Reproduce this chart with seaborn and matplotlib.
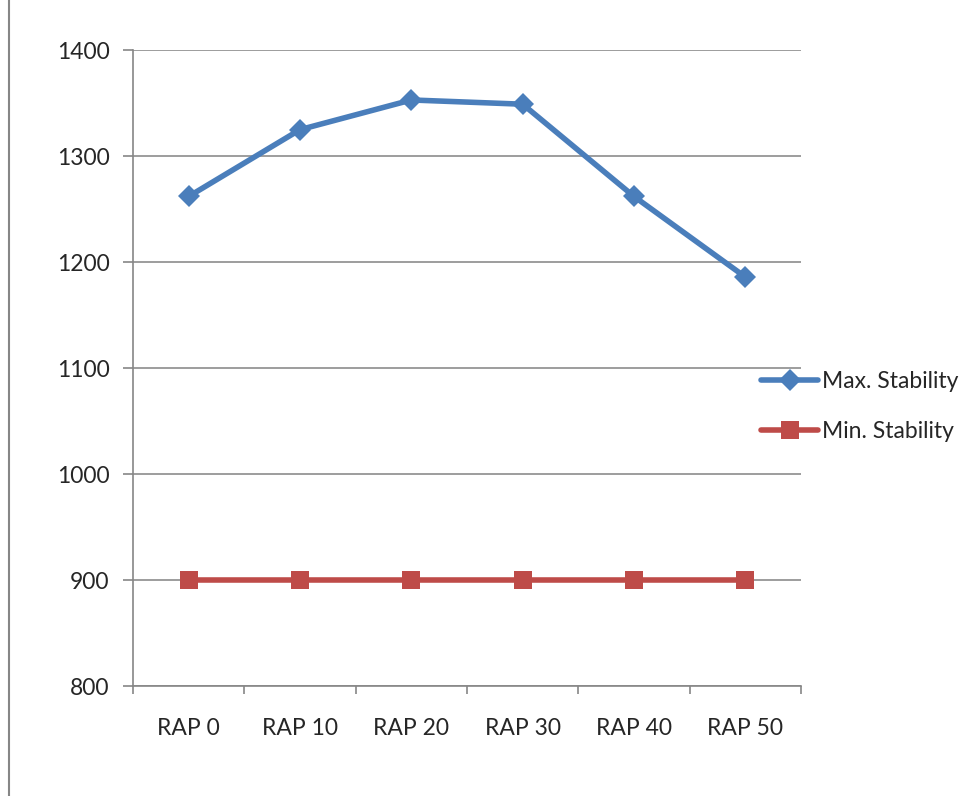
import numpy as np
import pandas as pd
import seaborn as sns
import matplotlib.pyplot as plt
from matplotlib.lines import Line2D
from matplotlib.ticker import FixedLocator

# values
categories = ['RAP 0', 'RAP 10', 'RAP 20', 'RAP 30', 'RAP 40', 'RAP 50']
max_stability = [1262, 1325, 1353, 1349, 1262, 1186]
min_stability = [900, 900, 900, 900, 900, 900]

df = pd.DataFrame({
    'category': categories * 2,
    'value': max_stability + min_stability,
    'series': ['Max. Stability'] * len(categories) + ['Min. Stability'] * len(categories),
})

sns.set_style('white')
plt.rcParams['font.family'] = ['Lato', 'DejaVu Sans']

fig = plt.figure(figsize=(9.78, 7.96), dpi=100)
ax = fig.add_axes([0.136, 0.138, 0.683, 0.799])

palette = {'Max. Stability': '#4A7EBB', 'Min. Stability': '#BE4B48'}
markers = {'Max. Stability': 'D', 'Min. Stability': 's'}
sizes = {'Max. Stability': 11.5, 'Min. Stability': 13.5}

for name, sub in df.groupby('series', sort=False):
    sns.lineplot(data=sub, x='category', y='value', ax=ax, color=palette[name],
                 marker=markers[name], markersize=sizes[name], markeredgewidth=0,
                 linewidth=4, label=name, sort=False)

ax.set_ylim(800, 1400)
ax.set_yticks(np.arange(800, 1401, 100))
ax.set_xlim(-0.5, len(categories) - 0.5)
ax.set_xticks(range(len(categories)))
ax.set_xticklabels(categories)
ax.xaxis.set_minor_locator(FixedLocator(np.arange(-0.5, len(categories), 1)))
ax.tick_params(axis='x', which='major', length=0, pad=23, labelsize=16.5)
ax.tick_params(axis='x', which='minor', length=6, color='#868686', width=1.2, direction='out', bottom=True)
ax.tick_params(axis='y', length=7, color='#868686', width=1.2, direction='out', left=True, pad=10, labelsize=16.5)
ax.grid(axis='y', color='#8c8c8c', linewidth=1.2)
ax.set_axisbelow(True)
for side in ['top', 'right']:
    ax.spines[side].set_visible(False)
for side in ['left', 'bottom']:
    ax.spines[side].set_color('#868686')
    ax.spines[side].set_linewidth(1.2)
ax.set_xlabel('')
ax.set_ylabel('')

ax.legend(loc='center left', bbox_to_anchor=(0.757, 0.489), bbox_transform=fig.transFigure,
          frameon=False, fontsize=16.5, handlelength=2.5, handletextpad=0.15, labelspacing=1.25)

# outer chart border on the left
fig.add_artist(Line2D([0.009, 0.009], [0, 1], transform=fig.transFigure, color='#868686', linewidth=1.5))

fig.savefig('out.png', dpi=100)
